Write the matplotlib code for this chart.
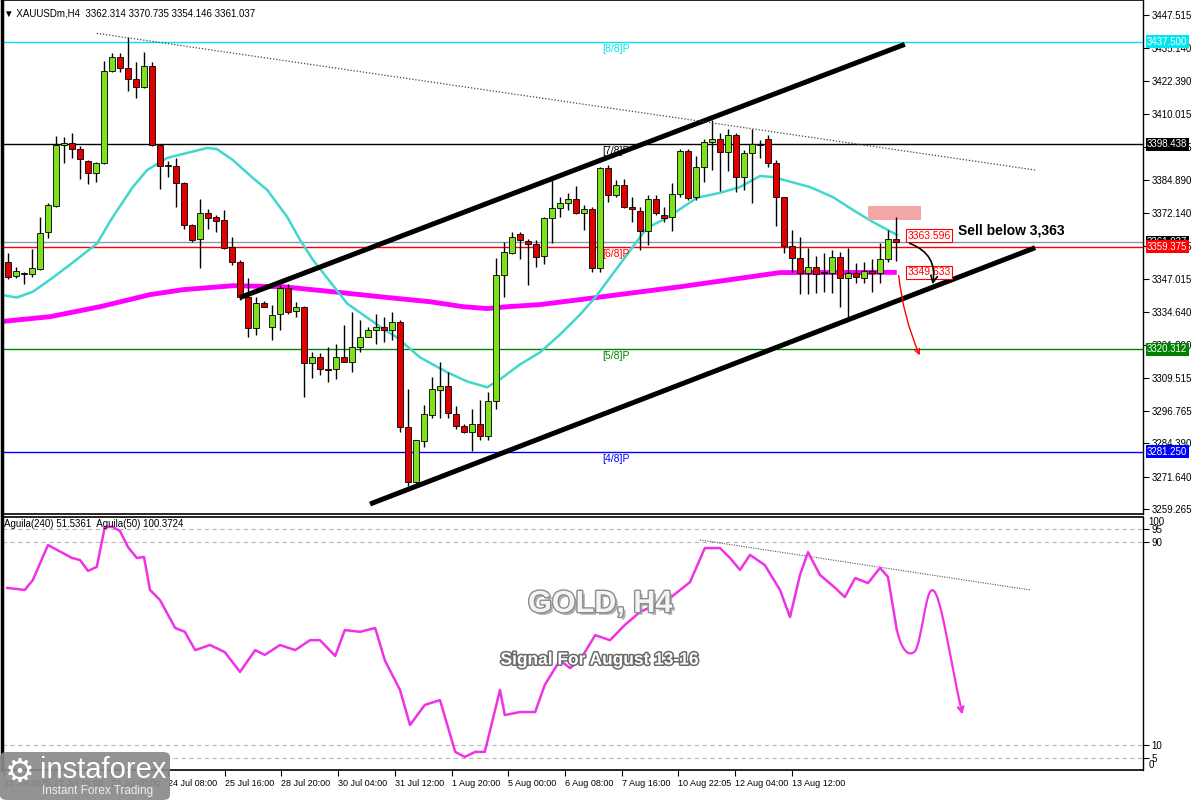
import matplotlib
matplotlib.use("Agg")
import matplotlib.pyplot as plt
from matplotlib.patches import Rectangle, FancyArrowPatch, FancyBboxPatch
from matplotlib.path import Path
import matplotlib.patheffects as pe
import matplotlib.transforms as mtransforms

plt.rcParams['font.family'] = ['Liberation Sans', 'DejaVu Sans']

# ---------------- data ----------------
header = "\u25BC XAUUSDm,H4  3362.314 3370.735 3354.146 3361.037"
ind_title = "Aguila(240) 51.5361  Aguila(50) 100.3724"

opens = [3353.6, 3348.3, 3349.1, 3349.1, 3351.0, 3365.0, 3374.9, 3398.1, 3398.9, 3396.6,
         3392.0, 3387.5, 3391.3, 3426.2, 3431.5, 3427.4, 3423.2, 3420.1, 3428.1, 3398.1,
         3390.1, 3390.1, 3383.7, 3367.7, 3362.4, 3372.3, 3370.7, 3369.6, 3359.3, 3353.6,
         3340.3, 3328.2, 3338.1, 3328.9, 3333.9, 3343.8, 3335.0, 3336.5, 3314.9, 3317.5,
         3312.6, 3312.6, 3317.2, 3315.3, 3321.0, 3325.1, 3327.8, 3328.6, 3327.8, 3330.8,
         3290.6, 3269.7, 3285.2, 3295.1, 3304.6, 3306.1, 3295.5, 3290.9, 3288.7, 3291.7,
         3287.1, 3300.4, 3348.7, 3357.1, 3364.3, 3361.6, 3360.5, 3355.9, 3370.4, 3374.2,
         3376.1, 3377.6, 3372.3, 3373.8, 3351.4, 3389.4, 3379.1, 3382.9, 3374.5, 3373.0,
         3365.4, 3377.6, 3371.5, 3370.7, 3379.5, 3395.8, 3378.3, 3389.7, 3399.2, 3400.4,
         3395.4, 3401.9, 3385.9, 3395.1, 3398.5, 3400.4, 3391.3, 3378.3, 3359.7, 3355.2,
         3349.5, 3351.7, 3349.5, 3349.5, 3355.5, 3347.6, 3349.5, 3347.6, 3350.2, 3349.5,
         3354.8, 3362.3]
highs = [3357.1, 3351.7, 3349.8, 3358.6, 3370.7, 3376.1, 3401.5, 3401.1, 3402.7, 3397.7,
         3392.4, 3391.6, 3430.0, 3433.1, 3433.1, 3439.1, 3429.6, 3433.4, 3429.6, 3398.3,
         3392.0, 3393.2, 3384.0, 3367.9, 3377.6, 3373.8, 3371.5, 3373.4, 3363.1, 3354.4,
         3347.6, 3340.3, 3338.8, 3337.3, 3344.9, 3345.3, 3338.4, 3336.9, 3319.1, 3318.7,
         3321.0, 3322.1, 3329.7, 3334.3, 3331.6, 3328.9, 3333.9, 3332.4, 3334.3, 3331.6,
         3305.0, 3285.8, 3298.9, 3309.9, 3315.3, 3311.5, 3298.5, 3291.7, 3297.4, 3300.8,
         3303.9, 3355.2, 3361.2, 3365.0, 3365.0, 3362.4, 3362.0, 3370.7, 3384.8, 3378.3,
         3379.9, 3382.5, 3375.3, 3374.5, 3389.7, 3390.5, 3384.8, 3385.2, 3378.3, 3374.5,
         3379.1, 3379.1, 3374.5, 3383.7, 3396.6, 3396.6, 3393.9, 3400.4, 3407.6, 3402.7,
         3404.2, 3402.7, 3396.2, 3404.2, 3400.0, 3401.9, 3392.4, 3378.5, 3365.8, 3363.1,
         3359.0, 3355.9, 3357.1, 3358.2, 3357.4, 3359.0, 3353.3, 3353.6, 3354.8, 3360.9,
         3365.8, 3370.7]
lows = [3347.2, 3347.6, 3345.3, 3347.9, 3350.6, 3362.8, 3374.5, 3391.3, 3393.2, 3385.2,
        3383.3, 3384.0, 3390.9, 3425.8, 3425.8, 3418.6, 3416.0, 3419.8, 3397.7, 3381.4,
        3385.9, 3374.5, 3366.2, 3361.2, 3351.4, 3366.2, 3365.0, 3358.6, 3352.5, 3339.2,
        3325.1, 3325.9, 3336.2, 3324.0, 3327.8, 3333.9, 3332.4, 3302.0, 3309.2, 3310.3,
        3307.7, 3308.8, 3315.3, 3311.8, 3319.1, 3324.8, 3322.1, 3323.2, 3324.0, 3288.7,
        3268.1, 3268.9, 3283.0, 3294.0, 3294.0, 3294.0, 3289.8, 3288.3, 3281.4, 3285.6,
        3285.6, 3297.4, 3340.3, 3356.7, 3354.8, 3344.9, 3351.7, 3352.9, 3360.9, 3370.7,
        3373.4, 3372.0, 3365.8, 3349.8, 3349.8, 3376.4, 3378.3, 3374.2, 3368.8, 3358.2,
        3360.1, 3371.5, 3368.8, 3365.4, 3378.3, 3377.2, 3377.2, 3384.0, 3388.6, 3380.6,
        3388.2, 3380.2, 3381.0, 3376.1, 3393.2, 3389.7, 3367.3, 3357.1, 3349.8, 3341.5,
        3341.5, 3341.9, 3342.2, 3341.9, 3336.2, 3331.6, 3345.7, 3345.7, 3342.2, 3345.7,
        3353.6, 3354.1]
closes = [3347.9, 3350.2, 3349.0, 3351.4, 3364.7, 3375.3, 3398.1, 3398.9, 3396.6, 3392.8,
          3387.5, 3391.3, 3426.2, 3431.5, 3427.4, 3423.2, 3420.1, 3428.1, 3398.1, 3390.1,
          3390.0, 3383.7, 3367.7, 3362.0, 3372.3, 3370.4, 3369.2, 3359.0, 3353.6, 3340.3,
          3328.2, 3338.1, 3336.5, 3333.5, 3343.8, 3334.6, 3336.5, 3314.9, 3317.2, 3312.6,
          3312.4, 3317.2, 3315.6, 3321.0, 3325.1, 3327.8, 3328.6, 3327.8, 3330.8, 3290.6,
          3269.7, 3285.6, 3295.5, 3305.0, 3306.1, 3295.9, 3290.9, 3288.7, 3291.7, 3287.1,
          3300.4, 3348.7, 3357.4, 3363.1, 3362.0, 3360.5, 3355.5, 3370.4, 3374.2, 3376.1,
          3377.6, 3372.3, 3373.8, 3351.4, 3389.4, 3379.1, 3382.9, 3374.5, 3373.8, 3365.4,
          3377.6, 3372.3, 3370.4, 3379.5, 3395.8, 3378.0, 3389.7, 3399.2, 3400.4, 3395.4,
          3401.9, 3385.9, 3395.1, 3398.5, 3398.1, 3391.3, 3378.3, 3359.7, 3355.2, 3349.5,
          3351.7, 3349.1, 3349.4, 3355.5, 3347.6, 3349.5, 3347.9, 3350.2, 3349.5, 3354.8,
          3362.4, 3361.0]

# moving averages (bar index, price)
ma20_bar = [-1, 1.1, 3.1, 5.25, 7.4, 11.1, 13.1, 15.6, 17.4, 19.9, 22.4, 24.9, 26.1, 28.1,
            30.6, 32.4, 34.9, 36.5, 38.1, 42.4, 46.5, 48.6, 51.5, 54.9, 57.4, 59.9, 61.5,
            64, 66.5, 69, 71.5, 73.4, 78.1, 79.9, 82.4, 86.1, 89, 91.5, 94, 95.6, 96.5,
            100.25, 103.1, 105.6, 108.1, 111.1]
ma20_val = [3341.1, 3340.0, 3342.2, 3346.8, 3351.7, 3360.5, 3370.7, 3382.1, 3388.6, 3393.2,
            3395.1, 3397.0, 3396.6, 3392.4, 3385.6, 3381.0, 3370.7, 3362.0, 3354.4, 3337.7,
            3328.9, 3324.8, 3317.2, 3311.5, 3308.0, 3305.8, 3308.8, 3314.5, 3319.1, 3325.9,
            3333.5, 3340.0, 3359.3, 3366.6, 3370.4, 3378.0, 3379.9, 3382.1, 3386.3, 3385.9,
            3385.2, 3382.1, 3378.3, 3373.4, 3368.8, 3363.9]
ma200_bar = [-1, 5.25, 11.5, 17.75, 21.9, 28.1, 34.4, 40.6, 46.5, 52.75, 56.9, 59.9, 62.4,
             66.5, 71.5, 84, 96.5, 111.1]
ma200_val = [3330.8, 3332.7, 3336.5, 3341.1, 3343.0, 3344.5, 3344.1, 3342.2, 3340.3, 3338.4,
             3336.5, 3335.8, 3336.5, 3337.3, 3339.2, 3344.1, 3349.5, 3349.6]

# Murrey levels
levels = [3437.500, 3398.438, 3359.375, 3320.312, 3281.250]
level_names = ["[8/8]P", "[7/8]P", "[6/8]P", "[5/8]P", "[4/8]P"]
level_colors = ["#00e5ee", "#000000", "#ff0000", "#008000", "#0000ff"]
bid_price = 3361.037

price_ticks = [3447.515, 3435.140, 3422.390, 3410.015, 3397.265, 3384.890, 3372.140,
               3359.765, 3347.015, 3334.640, 3321.890, 3309.515, 3296.765, 3284.390,
               3271.640, 3259.265]

time_pos = [-0.5, 5.8, 12.9, 20.0, 27.09, 34.18, 41.26, 48.35, 55.44, 62.53, 69.61, 76.7,
            83.79, 90.88, 97.96]
time_labels = ["22 Jul 2025", "22 Jul 16:00", "23 Jul 00:00", "24 Jul 08:00", "25 Jul 16:00",
               "28 Jul 20:00", "30 Jul 04:00", "31 Jul 12:00", "1 Aug 20:00", "5 Aug 00:00",
               "6 Aug 08:00", "7 Aug 16:00", "10 Aug 22:05", "12 Aug 04:00", "13 Aug 12:00"]

# trend lines (bar, price)
upper_channel = [(29, 3340.0), (112.1, 3436.5)]
lower_channel = [(45.25, 3261.3), (128.4, 3359.0)]
dotted_trend = [(11.1, 3440.7), (128.4, 3388.6)]

sell_zone = (107.5, 114.1, 3369.6, 3374.9)
marks = [3363.596, 3349.633]

# oscillator (bar, value)
osc_bar = [-0.1, 2.1, 3.1, 5, 8, 9, 10, 11.1, 12.1, 13.1, 14, 15, 16.1, 17, 17.75, 19, 20.9,
           22.1, 23.4, 25.25, 27.1, 29, 30.9, 32.1, 34, 35.9, 37.75, 39, 40.9, 42.1, 44,
           45.9, 47.1, 49, 50.25, 52.1, 54, 55.9, 57.1, 58.4, 59.6, 61.5, 62.1, 64, 65.9,
           67.1, 69, 70.25, 71.5, 73.4, 75.25, 77.1, 79, 80.9, 82.75, 85.25, 87.1, 89,
           90.25, 91.5, 92.75, 94.6, 96.5, 97.75, 99, 100, 101.5, 103.4, 104.6, 105.9,
           107.5, 109, 110, 111.1]
osc_val = [71.9, 71.1, 75.0, 88.8, 83.7, 82.9, 78.6, 80.2, 95.9, 95.9, 94.3, 88.0, 83.7,
           84.1, 71.1, 67.1, 56.1, 54.6, 47.4, 49.4, 46.6, 38.8, 47.4, 45.5, 49.4, 47.4,
           51.3, 51.3, 45.1, 55.3, 54.6, 56.1, 43.4, 31.7, 17.9, 25.8, 27.7, 7.3, 5.3, 7.3,
           7.3, 31.7, 21.8, 23.0, 23.0, 33.7, 43.4, 40.3, 43.4, 53.3, 51.3, 57.3, 62.4,
           65.2, 67.9, 74.2, 87.6, 87.6, 83.7, 79.0, 84.9, 80.9, 71.1, 60.4, 77.0, 86.0,
           77.0, 71.9, 68.3, 75.8, 73.8, 79.8, 76.2, 55.3]
osc_trend = [(86.5, 90.8), (127.75, 71.1)]
osc_levels = [95, 90, 10, 5]

# ---------------- figure ----------------
W, H = 1200, 800
fig = plt.figure(figsize=(12, 8), dpi=100)
fig.patch.set_facecolor("white")

XMIN, XMAX = -0.75, 141.875
ax = fig.add_axes([2 / W, 1 - 514 / H, 1141 / W, 514 / H])
ax.set_xlim(XMIN, XMAX)
ax.set_ylim(3257.5, 3453.39)
axi = fig.add_axes([2 / W, 1 - 770.4 / H, 1141 / W, 253.8 / H])
axi.set_xlim(XMIN, XMAX)
axi.set_ylim(0, 100)

for a in (ax, axi):
    a.set_facecolor("white")
    for s in a.spines.values():
        s.set_color("black")
    a.spines["left"].set_linewidth(2.5)
    a.spines["right"].set_linewidth(1.0)
    a.spines["top"].set_linewidth(1.2)
    a.spines["bottom"].set_linewidth(1.2)

# level lines
for lv, nm, col in zip(levels, level_names, level_colors):
    ax.axhline(lv, color=col, lw=1.0, zorder=1)
    ax.text(74.3, lv - 0.8, nm, color=col, fontsize=7.5, va="top", ha="left", zorder=6)
ax.axhline(bid_price, color="#8a9aaa", lw=1.0, zorder=1)

# MAs
ax.plot(ma200_bar, ma200_val, color="#ff00ff", lw=3.5, zorder=2, solid_capstyle="butt")
ax.plot(ma20_bar, ma20_val, color="#40d8cc", lw=1.8, zorder=2)

# candles
for i, (o, h, l, c) in enumerate(zip(opens, highs, lows, closes)):
    ax.vlines(i, l, h, color="black", lw=1.0, zorder=3)
    bot, top = min(o, c), max(o, c)
    hgt = max(top - bot, 0.5)
    if c > o:
        col = "#7fe01e"
    elif c < o:
        col = "#e00000"
    else:
        col = "#000000"
    ax.add_patch(Rectangle((i - 0.33, bot), 0.66, hgt, fc=col, ec="black", lw=0.6, zorder=4))

# trend lines
for ln in (upper_channel, lower_channel):
    ax.plot([ln[0][0], ln[1][0]], [ln[0][1], ln[1][1]], color="black", lw=3.6,
            solid_capstyle="butt", zorder=5)
ax.plot([dotted_trend[0][0], dotted_trend[1][0]], [dotted_trend[0][1], dotted_trend[1][1]],
        color="#444444", lw=0.9, ls=(0, (1, 1.5)), zorder=5)

# sell zone
x0, x1, y0, y1 = sell_zone
ax.add_patch(Rectangle((x0, y0), x1 - x0, y1 - y0, fc="#f4a7a7", ec="none", zorder=2))

# marks
for m in marks:
    ax.text(112.45, m, f"{m:.3f}", color="red", fontsize=7.5, va="center", ha="left",
            zorder=7, bbox=dict(boxstyle="square,pad=0.15", fc="white", ec="red", lw=0.8))
ax.text(118.75, 3365.6, "Sell below 3,363", fontsize=10, fontweight="bold", color="black",
        va="center", ha="left", zorder=7)

# arrows
ax.add_patch(FancyArrowPatch((112.4, 3361.0), (115.5, 3344.0),
                             connectionstyle="arc3,rad=-0.45", arrowstyle="->",
                             mutation_scale=12, lw=1.2, color="black", zorder=7))
ax.add_patch(FancyArrowPatch((111.3, 3349.5), (114.1, 3317.0),
                             connectionstyle="arc3,rad=0.08", arrowstyle="->",
                             mutation_scale=9, lw=1.0, color="red", zorder=7))

# right axis
ax.yaxis.tick_right()
ax.set_yticks(price_ticks)
ax.set_yticklabels([f"{t:.3f}" for t in price_ticks])
ax.tick_params(axis="y", labelsize=7, length=4, pad=2, width=0.8)
ax.set_xticks([])

trans = mtransforms.blended_transform_factory(ax.transAxes, ax.transData)
ax.text(1.0035, bid_price, f"{bid_price:.3f}", transform=trans, fontsize=7,
        color="white", va="center", ha="left", zorder=8, clip_on=False,
        bbox=dict(boxstyle="square,pad=0.15", fc="black", ec="none"))
for lv, col in zip(levels, level_colors):
    ax.text(1.0035, lv, f"{lv:.3f}", transform=trans, fontsize=7, color="white",
            va="center", ha="left", zorder=9, clip_on=False,
            bbox=dict(boxstyle="square,pad=0.15", fc=col, ec="none"))

# oscillator
for lv in osc_levels:
    axi.axhline(lv, color="#b8b8b8", lw=0.8, ls=(0, (4, 3)), zorder=1)
axi.plot(osc_bar, osc_val, color="#f032e6", lw=1.8, zorder=3)
axi.plot([osc_trend[0][0], osc_trend[1][0]], [osc_trend[0][1], osc_trend[1][1]],
         color="#555555", lw=0.8, ls=(0, (1, 1.2)), zorder=2)

proj = Path([(111.1, 55.5), (111.7, 47.0), (112.6, 44.5), (113.4, 47.0),
             (114.3, 52.0), (114.7, 72.0), (115.6, 71.0),
             (116.6, 70.0), (117.6, 46.0), (119.3, 22.0)],
            [Path.MOVETO, Path.CURVE4, Path.CURVE4, Path.CURVE4,
             Path.CURVE4, Path.CURVE4, Path.CURVE4,
             Path.CURVE4, Path.CURVE4, Path.CURVE4])
axi.add_patch(FancyArrowPatch(path=proj, arrowstyle="->", mutation_scale=10,
                              lw=1.6, color="#f032e6", zorder=4))

axi.yaxis.tick_right()
axi.set_yticks(osc_levels)
axi.set_yticklabels([str(v) for v in osc_levels])
axi.tick_params(axis="y", labelsize=7, length=4, pad=2, width=0.8)
transi = mtransforms.blended_transform_factory(axi.transAxes, axi.transData)
axi.text(1.0045, 100, "100", transform=transi, fontsize=7, va="top", ha="left")
axi.text(1.0045, 0, "0", transform=transi, fontsize=7, va="bottom", ha="left")

axi.set_xticks(time_pos)
axi.set_xticklabels(time_labels, fontsize=6.5, ha="left")
axi.tick_params(axis="x", length=4, pad=2, width=0.8)

# texts
fig.text(4 / W, 1 - 13 / H, header, fontsize=7, va="center", ha="left")
fig.text(4 / W, 1 - 524 / H, ind_title, fontsize=7, va="center", ha="left")
fig.text(600 / W, 1 - 604 / H, "GOLD, H4", fontsize=22, fontweight="bold", color="#f4f4f4",
         ha="center", va="center",
         path_effects=[pe.withSimplePatchShadow(offset=(2, -2), shadow_rgbFace="#9a9a9a", alpha=0.8),
                       pe.withStroke(linewidth=2.0, foreground="#8c8c8c")])
fig.text(600 / W, 1 - 660 / H, "Signal For August 13-16", fontsize=12.5, fontweight="bold",
         color="white", ha="center", va="center",
         path_effects=[pe.withStroke(linewidth=2.2, foreground="#6a6a6a")])

# logo
fig.patches.append(FancyBboxPatch((0, 0), 170 / W, 48 / H, boxstyle="round,pad=0,rounding_size=0.006",
                                  transform=fig.transFigure, fc="#8a8a8a", ec="none",
                                  alpha=0.92, zorder=10))
fig.text(20 / W, 1 - 772 / H, "\u2699", fontsize=24, color="white", ha="center", va="center",
         family="DejaVu Sans", zorder=11)
fig.text(40 / W, 1 - 770 / H, "instaforex", fontsize=21, color="white", ha="left", va="center",
         zorder=11)
fig.text(42 / W, 1 - 791 / H, "Instant Forex Trading", fontsize=8.5, color="#eeeeee",
         ha="left", va="center", zorder=11)

fig.savefig("out.png", dpi=100, facecolor="white")
